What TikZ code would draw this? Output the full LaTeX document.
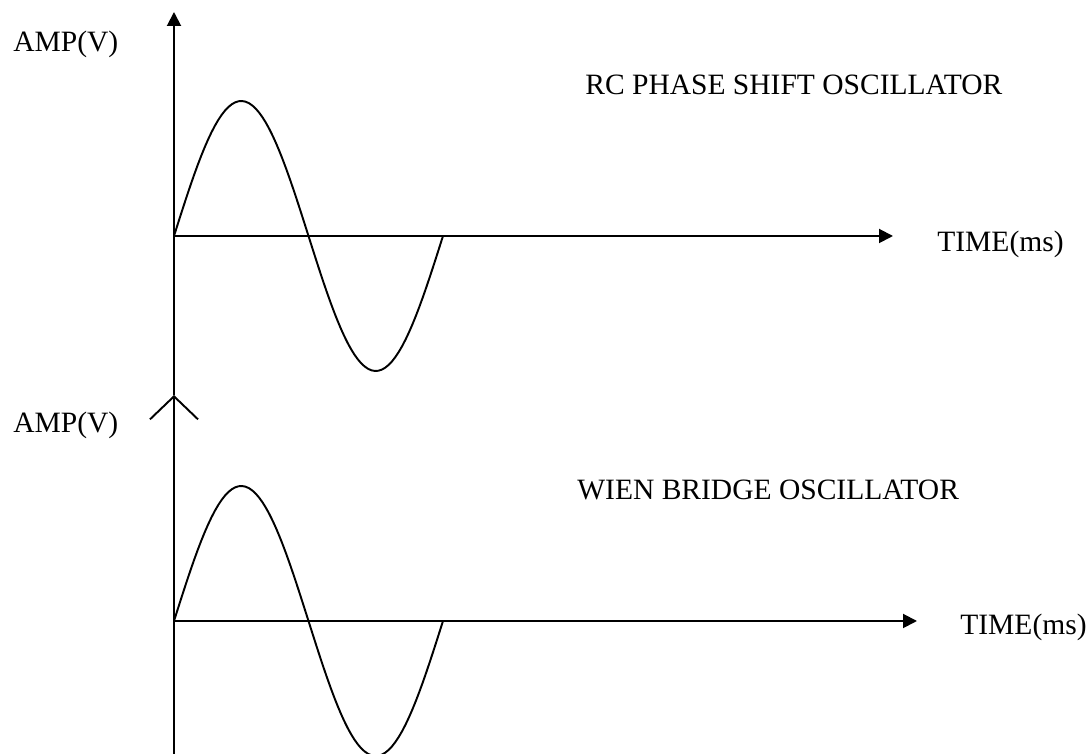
\documentclass[tikz,border=0pt]{standalone}
\usepackage{fontspec}
\setmainfont{Liberation Serif}
\usepackage{tikz}
\usetikzlibrary{arrows.meta,positioning,calc}

\begin{document}
\begin{tikzpicture}[every node/.style={font=\fontsize{16.8}{20}\selectfont, inner sep=0pt},
  axisline/.style={line width=1.1pt},
  wave/.style={line width=1.1pt}]
\useasboundingbox (-3.48,4.72) rectangle (18.36,-10.36);
% top graph
\coordinate (o1)   at (0,0);
\coordinate (yt1)  at (0,4.48);
\coordinate (yb1)  at (0,-3.18);
\coordinate (xe1)  at (14.38,0);
\draw[axisline, -{Triangle[length=0.28cm, width=0.28cm]}] (yb1) -- (yt1);
\draw[axisline, -{Triangle[length=0.28cm, width=0.28cm]}] (o1) -- (xe1);
\draw[wave, shift={(o1)}] plot[domain=0:360, samples=80] ({\x/360*5.38},{2.7*sin(\x)});
\node[anchor=base west] (amp1)  at (-3.22,3.69) {AMP(V)};
\node[anchor=base west] (time1) at (15.26,-0.31) {TIME(ms)};
\node[anchor=base west] (rc)    at (8.22,2.83) {RC PHASE SHIFT OSCILLATOR};
% bottom graph
\coordinate (o2)   at (0,-7.70);
\coordinate (yb2)  at (0,-10.36);
\coordinate (xe2)  at (14.86,-7.70);
\draw[axisline, -{Straight Barb[length=0.46cm, width=0.96cm]}] (yb2) -- (yb1);
\draw[axisline, -{Triangle[length=0.28cm, width=0.28cm]}] (o2) -- (xe2);
\draw[wave, shift={(o2)}] plot[domain=0:360, samples=80] ({\x/360*5.38},{2.7*sin(\x)});
\node[anchor=base west] (amp2)  at (-3.22,-3.93) {AMP(V)};
\node[anchor=base west] (time2) at (15.72,-7.97) {TIME(ms)};
\node[anchor=base west] (wien)  at (8.06,-5.27) {WIEN BRIDGE OSCILLATOR};
\end{tikzpicture}
\end{document}
